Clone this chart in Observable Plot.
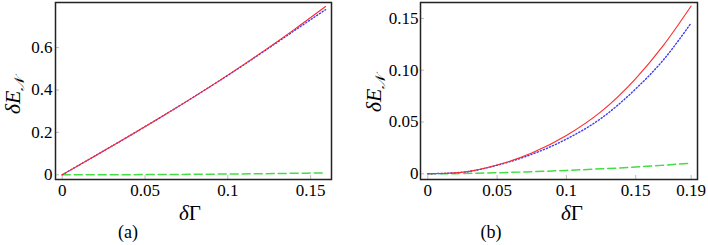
<!DOCTYPE html>
<html>
<head>
<meta charset="utf-8">
<script src="https://cdn.jsdelivr.net/npm/d3@7"></script>
<script src="https://cdn.jsdelivr.net/npm/@observablehq/plot@0.6"></script>
<style>
  html, body { margin: 0; padding: 0; background: #fff; }
  #wrap { position: relative; width: 708px; height: 245px; overflow: hidden; }
  #wrap svg { position: absolute; top: 0; overflow: visible; }
  #wrap svg text { font-family: "Liberation Serif", serif; }
</style>
</head>
<body>
<div id="wrap"></div>
<script>
// ---------- data: panel (a) ----------
const aX     = [0, 0.02, 0.04, 0.06, 0.08, 0.1, 0.12, 0.14, 0.159];
const aRed   = [0, 0.09, 0.181, 0.274, 0.37, 0.47, 0.575, 0.685, 0.794];
const aBlue  = [0, 0.09, 0.181, 0.274, 0.37, 0.469, 0.573, 0.679, 0.779];
const aGreen = [0, 0.00014, 0.0006, 0.0013, 0.0023, 0.0036, 0.0052, 0.007, 0.009];
const aXTicks = [0, 0.05, 0.1, 0.15];
const aXTickLabels = ["0", "0.05", "0.1", "0.15"];
const aYTicks = [0, 0.2, 0.4, 0.6];
const aYTickLabels = ["0", "0.2", "0.4", "0.6"];

// ---------- data: panel (b) ----------
const bX     = [0, 0.025, 0.05, 0.075, 0.1, 0.125, 0.15, 0.17, 0.19];
const bRed   = [0, 0.0015, 0.0085, 0.02, 0.037, 0.06, 0.092, 0.124, 0.162];
const bBlue  = [0, 0.0015, 0.0083, 0.0188, 0.0335, 0.0535, 0.082, 0.11, 0.1456];
const bGreen = [0, 0.0003, 0.001, 0.002, 0.0033, 0.0048, 0.0065, 0.0083, 0.0103];
const bXTicks = [0, 0.05, 0.1, 0.15, 0.19];
const bXTickLabels = ["0", "0.05", "0.1", "0.15", "0.19"];
const bYTicks = [0, 0.05, 0.1, 0.15];
const bYTickLabels = ["0", "0.05", "0.10", "0.15"];

const panelLabels = ["(a)", "(b)"];
const xLabelParts = [["δ", "italic"], ["Γ", "normal"]];

const serif = "Liberation Serif, serif";

function rows(xs, ys) { return xs.map((x, i) => ({x, y: ys[i]})); }

function makePanel(cfg) {
  const W = 354, H = 245;
  const fw = W - cfg.ml - cfg.mr, fh = H - cfg.mt - cfg.mb;
  const svg = Plot.plot({
    width: W, height: H,
    marginLeft: cfg.ml, marginRight: cfg.mr, marginTop: cfg.mt, marginBottom: cfg.mb,
    style: "font-family: 'Liberation Serif', serif; font-size: 17px; background: transparent; color: #000;",
    x: {domain: cfg.xDomain, label: null},
    y: {domain: cfg.yDomain, label: null},
    marks: [
      Plot.tickX(cfg.xTicks, {insetTop: fh - 4, stroke: "#aaa", strokeWidth: 0.8}),
      Plot.tickY(cfg.yTicks, {insetRight: fw - 4, stroke: "#aaa", strokeWidth: 0.8}),
      Plot.axisX({ticks: cfg.xTicks, tickSize: 0, tickPadding: 4, fontSize: 17,
        tickFormat: d => cfg.xTickLabels[cfg.xTicks.indexOf(d)], label: null}),
      Plot.axisY({ticks: cfg.yTicks, tickSize: 0, tickPadding: cfg.yPad, fontSize: 17,
        tickFormat: d => cfg.yTickLabels[cfg.yTicks.indexOf(d)], label: null}),
      Plot.line(rows(cfg.xs, cfg.green), {x: "x", y: "y", stroke: "#44dd44", strokeWidth: 1.5,
        strokeDasharray: "8,4", curve: "monotone-x"}),
      Plot.line(rows(cfg.xs, cfg.blue), {x: "x", y: "y", stroke: "#3b3bff", strokeWidth: 1.4,
        strokeDasharray: "1.2,2.1", curve: "monotone-x"}),
      Plot.line(rows(cfg.xs, cfg.red), {x: "x", y: "y", stroke: "#ff2a2a", strokeWidth: 1.1,
        curve: "monotone-x"}),
      Plot.frame({stroke: "#222", strokeWidth: 1.5})
    ]
  });
  svg.style.left = cfg.left + "px";
  const s = d3.select(svg);
  s.attr("font-family", serif).attr("font-size", 17);

  // y label: δE_𝒩 rotated
  const yl = s.append("text")
    .attr("transform", `translate(${cfg.ylx},${cfg.yly}) rotate(-90)`)
    .attr("text-anchor", "middle")
    .attr("font-family", serif).attr("font-size", 22).attr("fill", "#000");
  yl.append("tspan").attr("font-style", "italic").text("δ");
  yl.append("tspan").attr("font-style", "italic").text("E");
  yl.append("tspan").attr("font-size", 14).attr("dy", "0.3em").attr("font-style", "italic").text("𝒩");

  // x label: δΓ
  const xl = s.append("text")
    .attr("x", cfg.xlx).attr("y", 220)
    .attr("text-anchor", "middle")
    .attr("font-family", serif).attr("font-size", 21).attr("fill", "#000");
  xLabelParts.forEach(([t, st]) => xl.append("tspan").attr("font-style", st).text(t));

  // panel label
  s.append("text")
    .attr("x", cfg.plx).attr("y", 238)
    .attr("text-anchor", "middle")
    .attr("font-family", serif).attr("font-size", 18).attr("fill", "#000")
    .text(cfg.panel);
  return svg;
}

const wrap = document.getElementById("wrap");
wrap.appendChild(makePanel({
  left: 0, ml: 55, mr: 23, mt: 2, mb: 66,
  xDomain: [-0.00405, 0.1626], yDomain: [-0.0222, 0.8127],
  xs: aX, red: aRed, blue: aBlue, green: aGreen,
  xTicks: aXTicks, xTickLabels: aXTickLabels, yTicks: aYTicks, yTickLabels: aYTickLabels,
  yPad: 3, ylx: 20, yly: 96, xlx: 190, plx: 128, panel: panelLabels[0]
}));
wrap.appendChild(makePanel({
  left: 354, ml: 66, mr: 11, mt: 2, mb: 66,
  xDomain: [-0.00527, 0.1946], yDomain: [-0.0055, 0.1654],
  xs: bX, red: bRed, blue: bBlue, green: bGreen,
  xTicks: bXTicks, xTickLabels: bXTickLabels, yTicks: bYTicks, yTickLabels: bYTickLabels,
  yPad: 2, ylx: 26.5, yly: 94, xlx: 218, plx: 137, panel: panelLabels[1]
}));
</script>
</body>
</html>
